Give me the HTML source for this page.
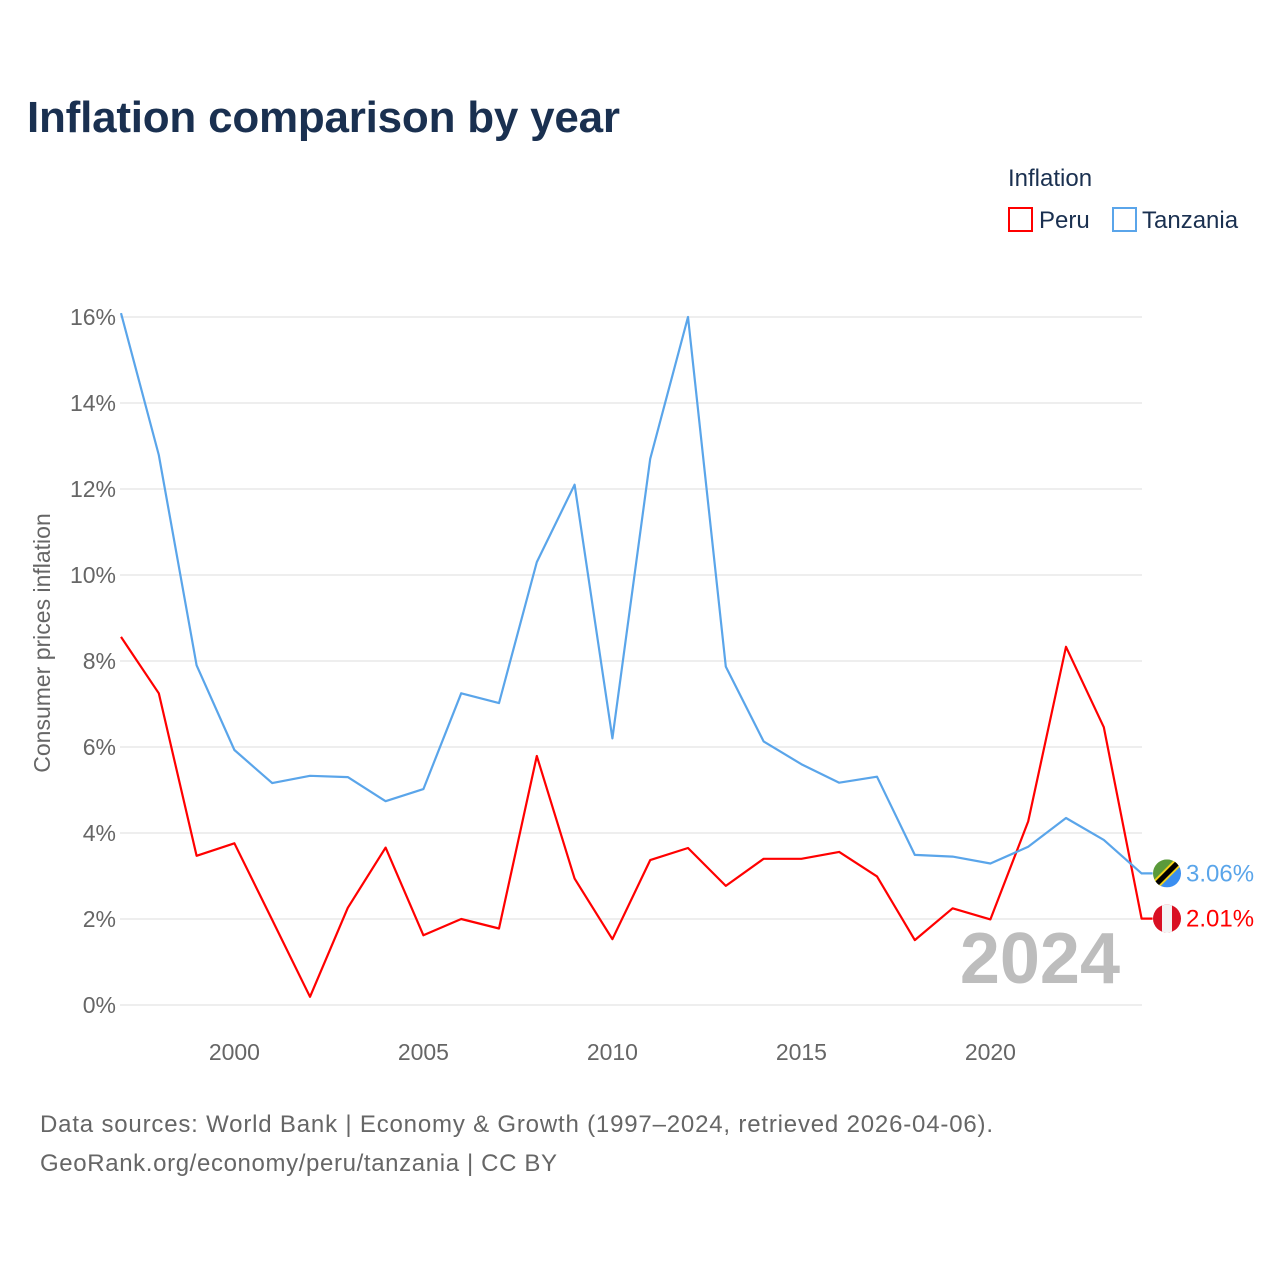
<!DOCTYPE html>
<html><head><meta charset="utf-8"><style>
body{margin:0;background:#fff;font-family:"Liberation Sans",sans-serif;}
#wrap{position:relative;width:1280px;height:1280px;}
</style></head><body>
<div id="wrap">
<svg id="chart" width="1280" height="1280">
<text x="27" y="132" font-size="44" font-weight="bold" fill="#1a3050" textLength="593">Inflation comparison by year</text>
<text x="1008" y="186" font-size="24" fill="#1a3050">Inflation</text>
<g><rect x="1009" y="208" width="23" height="23" fill="none" stroke="#f00" stroke-width="2"/><text x="1039" y="228" font-size="24" fill="#1a3050">Peru</text></g>
<g><rect x="1113" y="208" width="23" height="23" fill="none" stroke="#5aa5ea" stroke-width="2"/><text x="1142" y="228" font-size="24" fill="#1a3050">Tanzania</text></g>
<text transform="translate(50,643) rotate(-90)" text-anchor="middle" font-size="23" fill="#666">Consumer prices inflation</text>
<g id="grid"></g><g id="yticks"></g><g id="xticks"></g>
<text x="1120" y="983" text-anchor="end" font-size="72" font-weight="bold" fill="#bdbdbd">2024</text>
<g id="series"></g>
<text x="40" y="1132" font-size="24" fill="#666" textLength="953">Data sources: World Bank | Economy &amp; Growth (1997–2024, retrieved 2026-04-06).</text>
<text x="40" y="1171" font-size="24" fill="#666" textLength="517">GeoRank.org/economy/peru/tanzania | CC BY</text>
</svg></div>
<script>
const years=[1997,1998,1999,2000,2001,2002,2003,2004,2005,2006,2007,2008,2009,2010,2011,2012,2013,2014,2015,2016,2017,2018,2019,2020,2021,2022,2023,2024];
const peru=[8.56,7.25,3.47,3.76,1.98,0.19,2.26,3.66,1.62,2.0,1.78,5.79,2.94,1.53,3.37,3.65,2.77,3.40,3.40,3.56,2.99,1.51,2.25,1.99,4.27,8.33,6.46,2.01];
const tanzania=[16.09,12.79,7.9,5.93,5.16,5.33,5.30,4.74,5.02,7.25,7.02,10.3,12.1,6.2,12.7,16.0,7.87,6.13,5.6,5.17,5.31,3.49,3.45,3.29,3.68,4.35,3.84,3.06];
const yTicks=[0,2,4,6,8,10,12,14,16];
const xTicks=[2000,2005,2010,2015,2020];
const NS="http://www.w3.org/2000/svg";
const X=y=>121+(y-1997)*37.8;
const Y=v=>1005-v*43;
function mk(t,a,p){const e=document.createElementNS(NS,t);for(const k in a)e.setAttribute(k,a[k]);p.appendChild(e);return e;}
const grid=document.getElementById('grid'),yt=document.getElementById('yticks'),xt=document.getElementById('xticks'),se=document.getElementById('series');
yTicks.forEach(v=>{
 const l=mk('line',{x1:120,x2:1142,y1:Y(v),y2:Y(v),stroke:'#e8e8e8','stroke-width':1.5},grid);
 
 
 const t=mk('text',{x:116,y:Y(v)+8,'text-anchor':'end','font-size':23,fill:'#666'},yt);
 t.textContent=v+'%';
 
 
});
xTicks.forEach(y=>{
 const t=mk('text',{x:X(y),y:1060,'text-anchor':'middle','font-size':23,fill:'#666'},xt);
 t.textContent=y;
 
 
});
function line(vals,color,name){
 let d=vals.map((v,i)=>(i?'L':'M')+X(years[i]).toFixed(1)+' '+Y(v).toFixed(1)).join(' ');
 const last=vals[vals.length-1];
 d+=' L '+(X(years[years.length-1])+11)+' '+Y(last).toFixed(1);
 const p=mk('path',{d:d,fill:'none',stroke:color,'stroke-width':2.2,'stroke-linejoin':'round'},se);
 
 
 const t=mk('text',{x:1186,y:Y(last)+8,'font-size':24,fill:color},se);
 t.textContent=last.toFixed(2)+'%';
 
 
 return Y(last);
}
const yp=line(peru,'#f00','peru');
const yz=line(tanzania,'#5aa5ea','tanzania');
const fp=mk('g',{},se);


const cp=mk('clipPath',{id:'cp'},fp);mk('circle',{cx:1167,cy:yp,r:14},cp);
mk('rect',{x:1153,y:yp-14,width:28,height:28,fill:'#d91023','clip-path':'url(#cp)'},fp);
mk('rect',{x:1162,y:yp-14,width:10,height:28,fill:'#f4f4f4','clip-path':'url(#cp)'},fp);
const fz=mk('g',{},se);


const cz=mk('clipPath',{id:'cz'},fz);mk('circle',{cx:1167,cy:yz,r:14},cz);
mk('polygon',{points:`1153,${yz-14} 1181,${yz-14} 1153,${yz+14}`,fill:'#5a9a3a','clip-path':'url(#cz)'},fz);
mk('polygon',{points:`1181,${yz-14} 1181,${yz+14} 1153,${yz+14}`,fill:'#3a8ef0','clip-path':'url(#cz)'},fz);
mk('line',{x1:1155,y1:yz+12,x2:1179,y2:yz-12,stroke:'#f2d21b','stroke-width':9,'clip-path':'url(#cz)'},fz);
mk('line',{x1:1155,y1:yz+12,x2:1179,y2:yz-12,stroke:'#000','stroke-width':5,'clip-path':'url(#cz)'},fz);
</script></body></html>
